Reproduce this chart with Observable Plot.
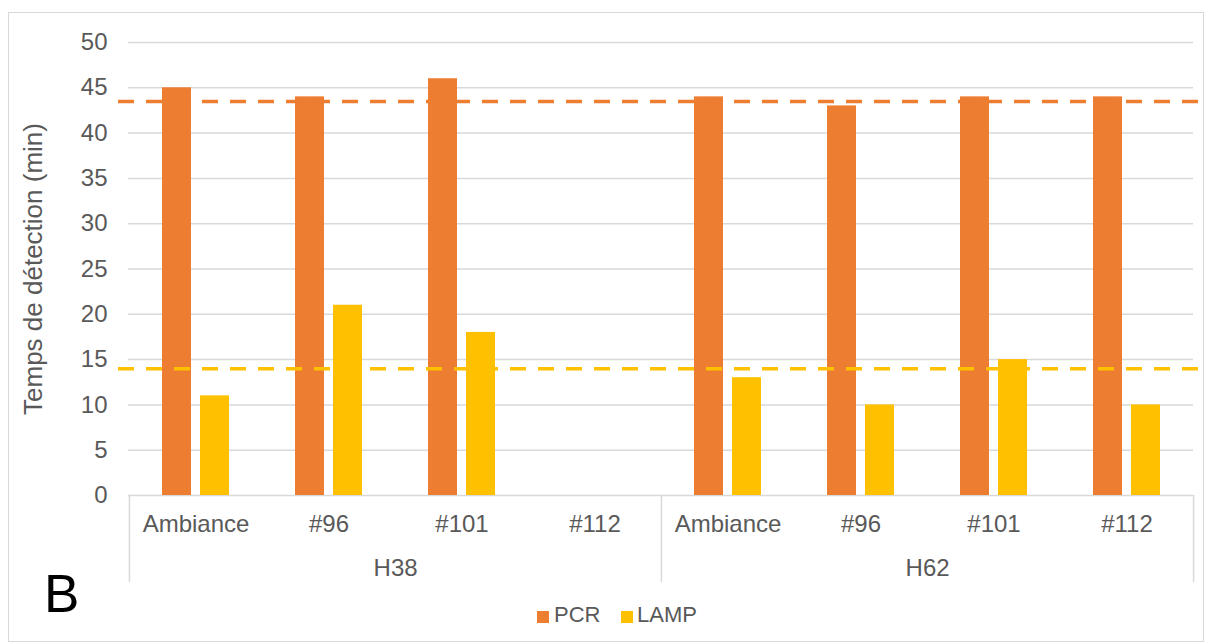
<!DOCTYPE html>
<html>
<head>
<meta charset="utf-8">
<script src="https://cdn.jsdelivr.net/npm/d3@7"></script>
<script src="https://cdn.jsdelivr.net/npm/@observablehq/plot@0.6"></script>
<style>
  html, body { margin: 0; padding: 0; background: #fff; }
  #wrap { position: relative; width: 1210px; height: 644px; overflow: hidden; background: #fff;
          font-family: "Liberation Sans", Arial, sans-serif; }
  #wrap svg { position: absolute; left: 0; top: 0; }
  #border { position: absolute; left: 8px; top: 12px; width: 1196px; height: 630px;
            border: 1px solid #d9d9d9; box-sizing: border-box; pointer-events: none; }
  .lbl { position: absolute; white-space: nowrap; line-height: 1; }
  .sw { position: absolute; width: 12px; height: 12px; }
</style>
</head>
<body>
<div id="wrap">
  <div id="border"></div>
</div>
<script>
// ---- data ----
const groups = ["H38", "H62"];
const samples = ["Ambiance", "#96", "#101", "#112"];
const seriesNames = ["PCR", "LAMP"];
const pcrH38 = [45, 44, 46, null];
const lampH38 = [11, 21, 18, null];
const pcrH62 = [44, 43, 44, 44];
const lampH62 = [13, 10, 15, 10];
const refLines = [43.5, 14]; // PCR, LAMP dashed reference lines
const yTicks = [0, 5, 10, 15, 20, 25, 30, 35, 40, 45, 50];
const colors = ["#ED7D31", "#FFC000"];
const yTitle = "Temps de détection (min)";
const panelLetter = "B";

// ---- table ----
const values = { H38: { PCR: pcrH38, LAMP: lampH38 }, H62: { PCR: pcrH62, LAMP: lampH62 } };
const rows = [];
groups.forEach(g => samples.forEach((s, i) => seriesNames.forEach(se => {
  rows.push({ group: g, sample: s, key: g + "|" + s, series: se, value: values[g][se][i] });
})));
const keys = groups.flatMap(g => samples.map(s => g + "|" + s));

const W = 1210, H = 644, ml = 128, mr = 17, mt = 42, mb = 149;
const bw = (W - ml - mr) / keys.length;
const textColor = "#595959";
const grid = "#d9d9d9";
const fs = 24;

const chart = Plot.plot({
  width: W, height: H,
  marginLeft: ml, marginRight: mr, marginTop: mt, marginBottom: mb,
  style: { fontFamily: "'Liberation Sans', Arial, sans-serif", fontSize: fs + "px", background: "transparent", color: textColor },
  x: { domain: keys, padding: 0, axis: null },
  y: { domain: [0, 50], axis: null },
  color: { domain: seriesNames, range: colors },
  marks: [
    Plot.ruleY(yTicks, { stroke: grid, strokeWidth: 1.5 }),
    Plot.barY(rows.filter(d => d.series === "PCR" && d.value != null),
      { x: "key", y: "value", fill: "series", insetLeft: 33, insetRight: 71 }),
    Plot.barY(rows.filter(d => d.series === "LAMP" && d.value != null),
      { x: "key", y: "value", fill: "series", insetLeft: 71, insetRight: 33 }),
    Plot.ruleY([refLines[0]], { stroke: colors[0], strokeWidth: 3.5, strokeDasharray: "16,12", insetLeft: -10, insetRight: -6 }),
    Plot.ruleY([refLines[1]], { stroke: colors[1], strokeWidth: 3.5, strokeDasharray: "16,12", insetLeft: -10, insetRight: -6 }),
    Plot.axisY({ ticks: yTicks, tickSize: 0, tickPadding: 21, fontSize: fs, fill: textColor, label: null }),
    Plot.axisX({ tickSize: 0, tickPadding: 19, tickFormat: k => k.split("|")[1], fontSize: fs, fill: textColor, label: null }),
    Plot.text(groups, { x: g => g + "|" + samples[1], text: d => d, dx: bw / 2, frameAnchor: "bottom", dy: 63,
      lineAnchor: "top", fill: textColor, fontSize: fs }),
    Plot.ruleX([groups[0] + "|" + samples[0], groups[1] + "|" + samples[0]],
      { dx: -bw / 2, stroke: grid, strokeWidth: 1.5, insetTop: H - mt - mb, insetBottom: -87 }),
    Plot.ruleX([groups[1] + "|" + samples[3]],
      { dx: bw / 2, stroke: grid, strokeWidth: 1.5, insetTop: H - mt - mb, insetBottom: -87 }),
    Plot.text([yTitle], { text: d => d, frameAnchor: "left", textAnchor: "middle", lineAnchor: "middle",
      rotate: -90, dx: -95, fill: textColor, fontSize: 26 })
  ]
});
const wrap = document.getElementById("wrap");
wrap.insertBefore(chart, wrap.firstChild);

// legend + panel letter
function add(cls, text, css) {
  const el = document.createElement("div");
  el.className = cls;
  if (text) el.textContent = text;
  Object.assign(el.style, css);
  wrap.appendChild(el);
}
add("lbl", panelLetter, { left: "44px", top: "567px", fontSize: "53px", color: "#000" });
add("sw", "", { left: "537px", top: "611px", background: colors[0] });
add("lbl", seriesNames[0], { left: "554px", top: "604px", fontSize: "22px", color: textColor });
add("sw", "", { left: "621px", top: "611px", background: colors[1] });
add("lbl", seriesNames[1], { left: "637px", top: "604px", fontSize: "22px", color: textColor });
</script>
</body>
</html>
